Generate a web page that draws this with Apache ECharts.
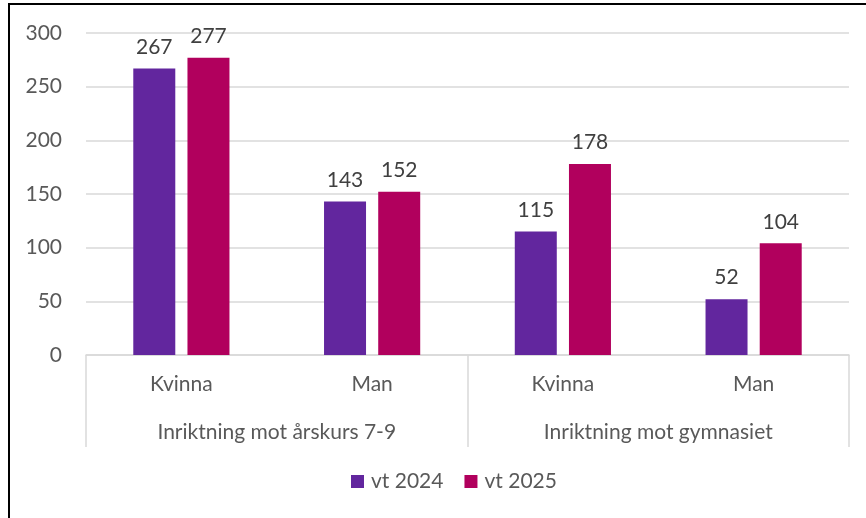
<!DOCTYPE html>
<html>
<head>
<meta charset="utf-8">
<script src="https://cdn.jsdelivr.net/npm/echarts@6/dist/echarts.min.js"></script>
<style>
  html, body { margin: 0; padding: 0; background: #fff; }
  #chart { width: 866px; height: 518px; }
</style>
</head>
<body>
<div id="chart"></div>
<script>
var categories = ['Kvinna', 'Man', 'Kvinna', 'Man'];
var groups = ['Inriktning mot årskurs 7-9', 'Inriktning mot gymnasiet'];
var seriesNames = ['vt 2024', 'vt 2025'];
var vt2024 = [267, 143, 115, 52];
var vt2025 = [277, 152, 178, 104];
var colors = ['#62269e', '#b1005d'];

var font = 'Lato';
var fs = 21;
var chart = echarts.init(document.getElementById('chart'));

var option = {
  animation: false,
  color: colors,
  textStyle: { fontFamily: font },
  grid: { left: 86, right: 17, top: 33, bottom: 163 },
  legend: {
    data: seriesNames,
    bottom: 21,
    left: 346,
    itemWidth: 13,
    itemHeight: 13,
    itemGap: 21,
    icon: 'rect',
    textStyle: { fontSize: fs, color: '#595959', fontFamily: font, padding: [0, 0, 0, 2] }
  },
  xAxis: [
    {
      type: 'category',
      data: categories,
      position: 'bottom',
      axisLine: { lineStyle: { color: '#d9d9d9', width: 1.5 } },
      axisTick: { show: false },
      axisLabel: { fontSize: fs, color: '#595959', margin: 19 }
    },
    {
      type: 'category',
      data: groups,
      position: 'bottom',
      axisLine: { show: false },
      axisTick: { show: true, length: 92, lineStyle: { color: '#d9d9d9', width: 1.5 } },
      axisLabel: { fontSize: fs, color: '#595959', margin: 67 }
    }
  ],
  yAxis: {
    type: 'value',
    min: 0,
    max: 300,
    interval: 50,
    axisLine: { show: false },
    axisTick: { show: false },
    splitLine: { lineStyle: { color: '#d9d9d9', width: 1.5 } },
    axisLabel: { fontSize: fs, color: '#595959', margin: 24 }
  },
  series: [
    {
      name: seriesNames[0],
      type: 'bar',
      data: vt2024,
      barWidth: 42,
      barGap: '29%',
      label: { show: true, position: 'top', distance: 11, fontSize: fs, color: '#404040' }
    },
    {
      name: seriesNames[1],
      type: 'bar',
      data: vt2025,
      barWidth: 42,
      barGap: '29%',
      label: { show: true, position: 'top', distance: 11, fontSize: fs, color: '#404040' }
    }
  ],
  graphic: [
    { type: 'rect', shape: { x: 8, y: 3, width: 858, height: 2 }, style: { fill: '#000' } },
    { type: 'rect', shape: { x: 8, y: 3, width: 2, height: 515 }, style: { fill: '#000' } }
  ]
};

chart.setOption(option);
</script>
</body>
</html>
